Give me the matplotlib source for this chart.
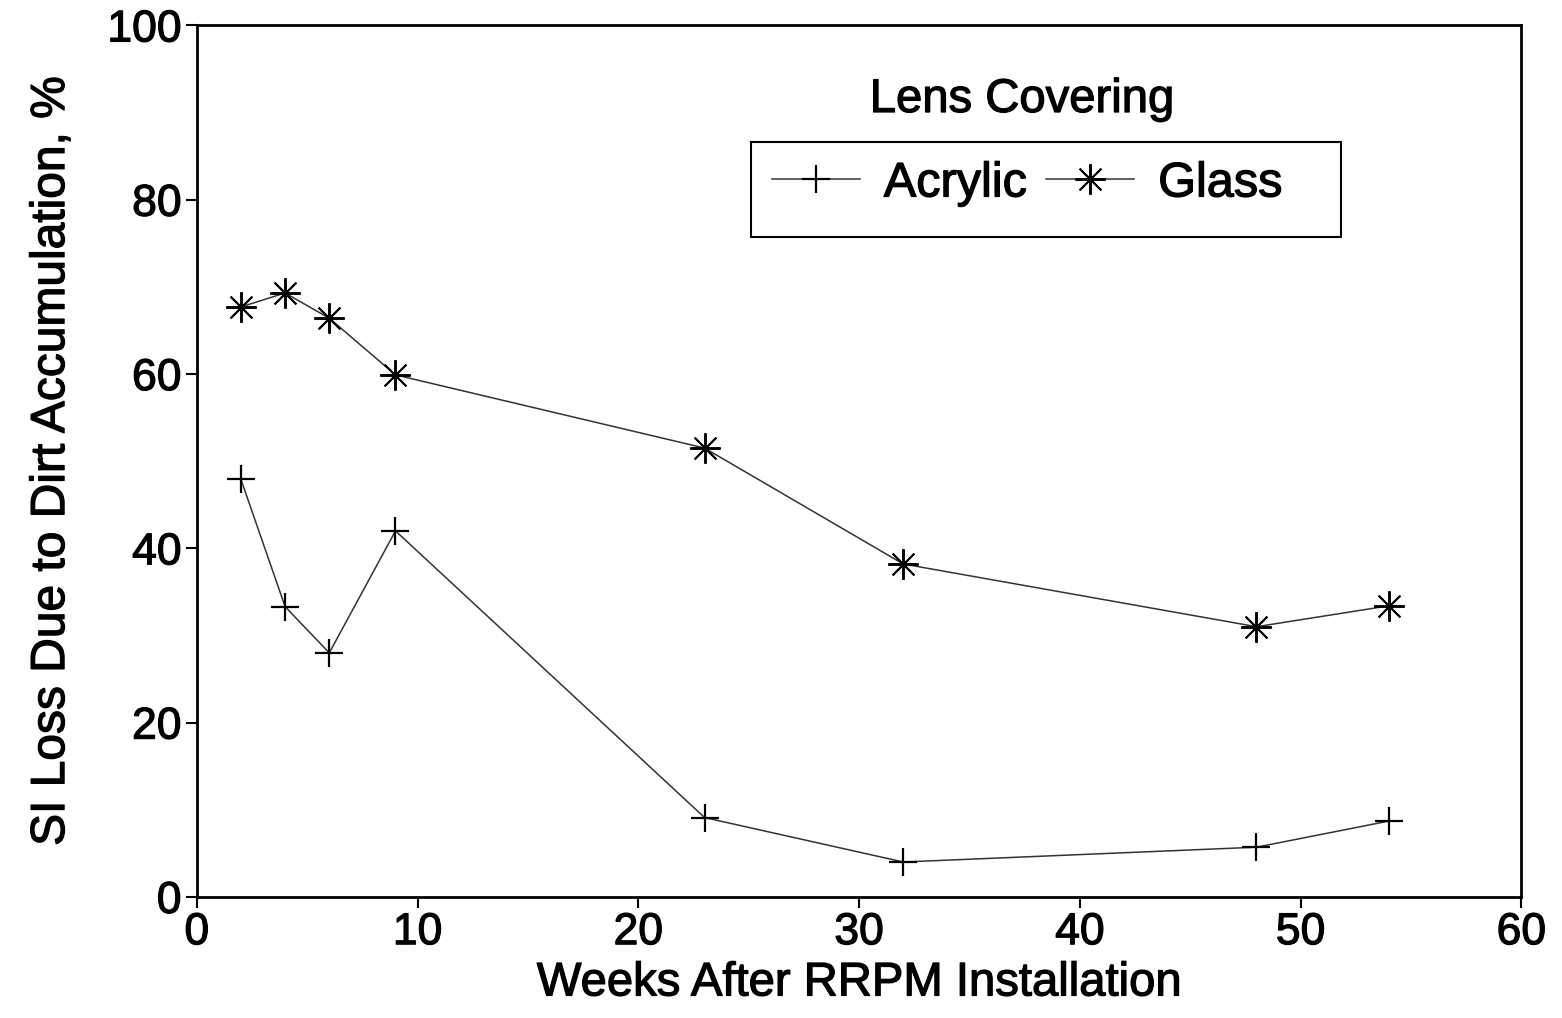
import matplotlib
matplotlib.use("Agg")
import matplotlib.pyplot as plt
import matplotlib.patheffects as pe
from matplotlib.patches import Rectangle

weeks = [2, 4, 6, 9, 23, 32, 48, 54]
acrylic = [47.9, 33.3, 28.0, 42.0, 9.1, 4.0, 5.7, 8.7]
glass = [67.7, 69.3, 66.4, 59.9, 51.5, 38.2, 31.0, 33.4]
xticks = [0, 10, 20, 30, 40, 50, 60]
yticks = [0, 20, 40, 60, 80, 100]

plt.rcParams['font.family'] = ['Liberation Sans', 'DejaVu Sans']
thick = [pe.withStroke(linewidth=0.9, foreground='black')]

W, H = 1562, 1018
fig = plt.figure(figsize=(15.62, 10.18), dpi=100)
ax = fig.add_axes([0.126, 0.119, 0.848, 0.856])

ax.plot(weeks, acrylic, color='#333333', lw=1.1, marker='+', markersize=20,
        markeredgewidth=1.6, markeredgecolor='black', label='Acrylic')
ax.plot(weeks, glass, color='#333333', lw=1.1, marker=(8, 2, 0), markersize=22,
        markeredgewidth=1.4, markeredgecolor='black', label='Glass')

ax.set_xlim(0, 60)
ax.set_ylim(0, 100)
ax.set_xticks(xticks)
ax.set_yticks(yticks)
ax.tick_params(direction='out', length=8, width=1.5, labelsize=32, pad=3,
               top=False, right=False)
for lbl in ax.get_xticklabels() + ax.get_yticklabels():
    lbl.set_path_effects(thick)
for s in ax.spines.values():
    s.set_linewidth(2)

ax.set_xlabel('Weeks After RRPM Installation', fontsize=34, labelpad=6,
              path_effects=thick)
ax.set_ylabel('SI Loss Due to Dirt Accumulation, %', fontsize=34.5,
              labelpad=24, path_effects=thick)

fig.text(1022/W, 1 - 100/H, 'Lens Covering', fontsize=34,
         ha='center', va='center', path_effects=thick)

# legend frame drawn as a box in figure coordinates
fig.add_artist(Rectangle((751/W, 1 - 237/H), (1341 - 751)/W, (237 - 142)/H,
                         transform=fig.transFigure, fill=False,
                         edgecolor='black', linewidth=1.5))
leg = ax.legend(loc='center left', bbox_to_anchor=(772/W, 1 - 184/H),
                bbox_transform=fig.transFigure, ncol=2,
                prop={'size': 35},
                frameon=False, borderpad=0, handlelength=1.8,
                columnspacing=0.4, handletextpad=0.5, borderaxespad=0)
for t in leg.get_texts():
    t.set_path_effects(thick)

fig.savefig('out.png', dpi=100)
